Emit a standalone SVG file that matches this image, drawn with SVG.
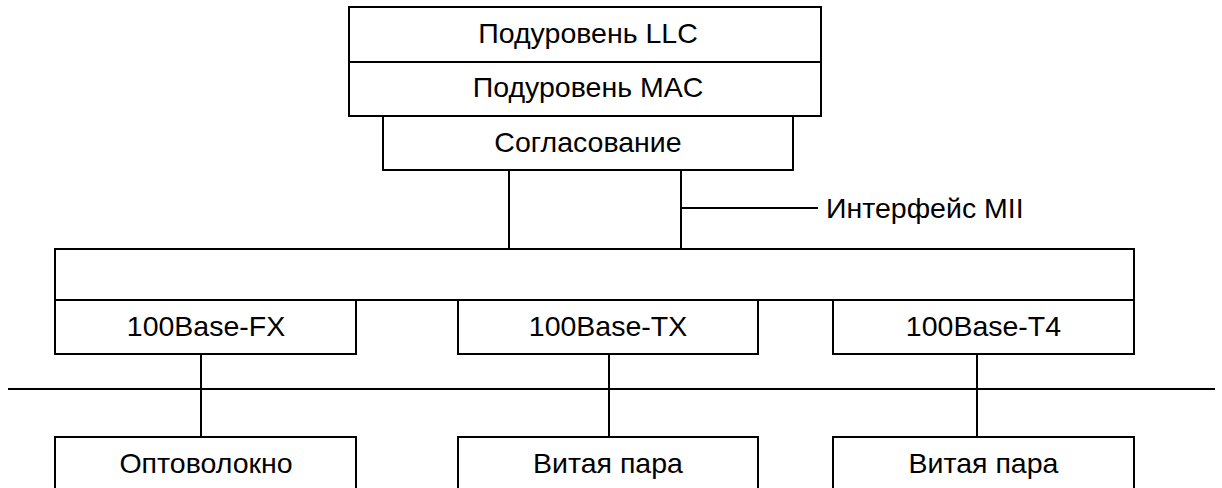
<svg xmlns="http://www.w3.org/2000/svg" width="1222" height="488" viewBox="0 0 1222 488">
<style>
.b{fill:#fff;stroke:#000;stroke-width:2}
.l{fill:none;stroke:#000;stroke-width:2}
.t{font-family:"Liberation Sans",Arial,sans-serif;font-size:28.5px;fill:#000;text-anchor:middle}
</style>
<rect width="1222" height="488" fill="#fff"/>
<g id="connectors">
<polyline class="l" points="509,170 509,249"/>
<polyline class="l" points="681,170 681,249"/>
<line class="l" x1="681" y1="208" x2="818" y2="208"/>
<line class="l" x1="8" y1="389" x2="1215" y2="389"/>
<line class="l" x1="201" y1="354" x2="201" y2="437"/>
<line class="l" x1="609" y1="354" x2="609" y2="437"/>
<line class="l" x1="977" y1="354" x2="977" y2="437"/>
</g>
<g id="llc"><rect class="b" x="349" y="7" width="472" height="55"/><text class="t" x="588" y="43">Подуровень LLC</text></g>
<g id="mac"><rect class="b" x="349" y="62" width="472" height="54"/><text class="t" x="588" y="97">Подуровень MAC</text></g>
<g id="rs"><rect class="b" x="383" y="116" width="410" height="54"/><text class="t" x="588" y="152">Согласование</text></g>
<g id="phy"><rect class="b" x="55" y="249" width="1079" height="51"/></g>
<g id="fx"><rect class="b" x="55" y="300" width="301" height="54"/><text class="t" x="206" y="336">100Base-FX</text></g>
<g id="tx"><rect class="b" x="458" y="300" width="300" height="54"/><text class="t" x="608" y="336">100Base-TX</text></g>
<g id="t4"><rect class="b" x="833" y="300" width="301" height="54"/><text class="t" x="983.5" y="336">100Base-T4</text></g>
<g id="fiber"><rect class="b" x="55" y="437" width="301" height="60"/><text class="t" x="206" y="473">Оптоволокно</text></g>
<g id="tp1"><rect class="b" x="458" y="437" width="300" height="60"/><text class="t" x="608" y="473">Витая пара</text></g>
<g id="tp2"><rect class="b" x="833" y="437" width="301" height="60"/><text class="t" x="983.5" y="473">Витая пара</text></g>
<g id="mii"><text class="t" x="826" y="218" style="text-anchor:start">Интерфейс MII</text></g>
</svg>
